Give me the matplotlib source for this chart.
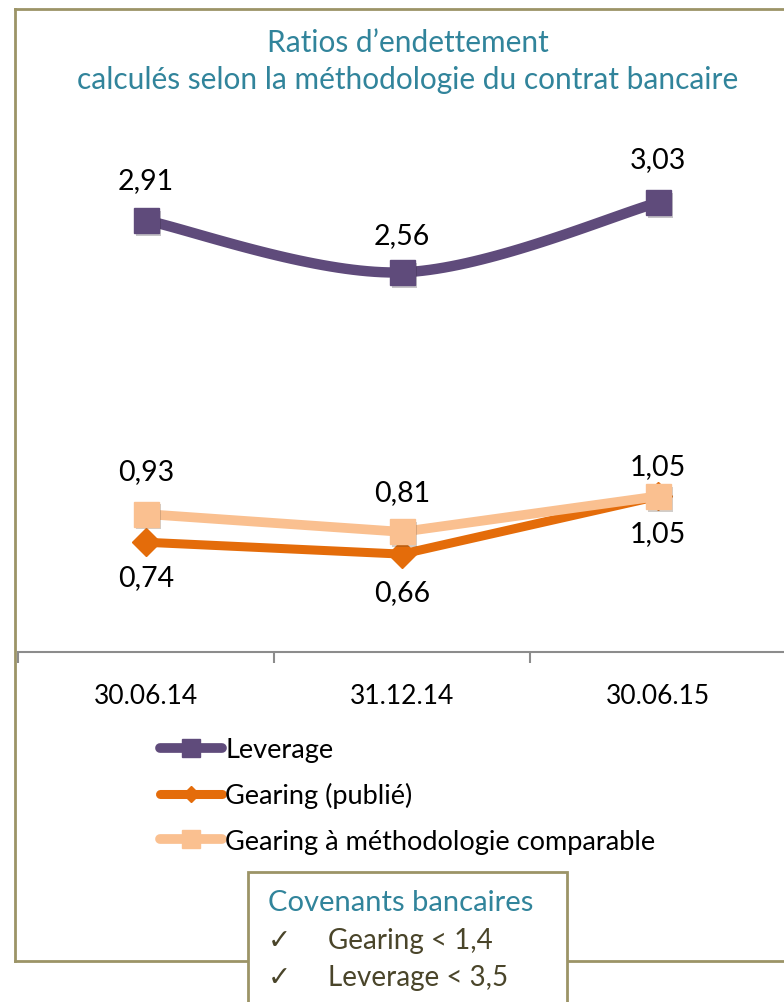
import numpy as np
import matplotlib.pyplot as plt
from matplotlib.lines import Line2D
from matplotlib.patches import Rectangle
import matplotlib.patheffects as pe

plt.rcParams['font.family'] = ['Lato', 'DejaVu Sans']

periodes = ['30.06.14', '31.12.14', '30.06.15']
leverage = [2.91, 2.56, 3.03]
gearing_publie = [0.74, 0.66, 1.05]
gearing_comparable = [0.93, 0.81, 1.05]
covenants = ['Gearing < 1,4', 'Leverage < 3,5']

violet = '#5F4B7B'
orange = '#E46C0A'
peche = '#FAC090'
teal = '#31849B'
olive = '#9C9467'

W, H = 784, 1003


def fx(px):
    return px / W


def fy(py):
    return 1 - py / H


def catmull_rom(x, y, n=40):
    # courbe lissée façon Excel à travers les points
    px = np.concatenate([[x[0]], x, [x[-1]]])
    py = np.concatenate([[y[0]], y, [y[-1]]])
    xs, ys = [], []
    t = np.linspace(0, 1, n)
    for i in range(1, len(px) - 2):
        for p, out in ((px, xs), (py, ys)):
            p0, p1, p2, p3 = p[i - 1], p[i], p[i + 1], p[i + 2]
            out.extend(0.5 * ((2 * p1) + (-p0 + p2) * t
                              + (2 * p0 - 5 * p1 + 4 * p2 - p3) * t ** 2
                              + (-p0 + 3 * p1 - 3 * p2 + p3) * t ** 3))
    return np.array(xs), np.array(ys)


fig = plt.figure(figsize=(W / 100, H / 100), dpi=100)
ax = fig.add_axes([fx(18), fy(653), fx(786 - 18), (653 - 128) / H])

x = np.arange(len(periodes))
ombre = [pe.SimplePatchShadow(offset=(2, -2), alpha=0.25), pe.Normal()]

# Leverage : courbe lissée
sx, sy = catmull_rom(x.astype(float), np.array(leverage))
ax.plot(sx, sy, color=violet, lw=7.5, solid_capstyle='round', zorder=3)
ax.plot(x, leverage, ls='none', marker='s', ms=18, color=violet, zorder=4,
        path_effects=ombre)

ax.plot(x, gearing_publie, color=orange, lw=6.5, marker='D', ms=14,
        zorder=3, solid_capstyle='round')
ax.plot(x, gearing_comparable, color=peche, lw=7, zorder=4, solid_capstyle='round')
ax.plot(x, gearing_comparable, ls='none', marker='s', ms=18, color=peche, zorder=5,
        path_effects=ombre)

# décalages des étiquettes (pixels)
dec_leverage = [40, 37, 44]
dec_comparable = [43, 40, 30]
dec_publie = [-35, -38, -37]

lab = dict(ha='center', va='center', fontsize=20.5, color='black',
           textcoords='offset points')
for i in range(len(x)):
    ax.annotate(f'{leverage[i]:.2f}'.replace('.', ','), (x[i], leverage[i]),
                xytext=(0, dec_leverage[i] * 0.72), **lab)
    ax.annotate(f'{gearing_comparable[i]:.2f}'.replace('.', ','),
                (x[i], gearing_comparable[i]),
                xytext=(0, dec_comparable[i] * 0.72), **lab)
    ax.annotate(f'{gearing_publie[i]:.2f}'.replace('.', ','),
                (x[i], gearing_publie[i]),
                xytext=(0, dec_publie[i] * 0.72), **lab)

ax.set_xlim(-0.5, 2.5)
ax.set_ylim(0, 3.54)
ax.set_yticks([])
ax.set_xticks(x)
ax.set_xticklabels(periodes, fontsize=19)
ax.set_xticks([-0.5, 0.5, 1.5], minor=True)
ax.tick_params(axis='x', which='major', length=0, pad=22)
ax.tick_params(axis='x', which='minor', length=8, color='#8C8C8C', width=1.5)
for s in ('left', 'right', 'top'):
    ax.spines[s].set_visible(False)
ax.spines['bottom'].set_color('#8C8C8C')
ax.spines['bottom'].set_linewidth(1.5)
ax.patch.set_alpha(0)

# titre
fig.text(fx(408), fy(43), 'Ratios d\u2019endettement', ha='center', va='center',
         fontsize=21.5, color=teal)
fig.text(fx(408), fy(80), 'calculés selon la méthodologie du contrat bancaire',
         ha='center', va='center', fontsize=21.5, color=teal)

# légende
handles = [
    Line2D([], [], color=violet, lw=7, marker='s', ms=13, solid_capstyle='round'),
    Line2D([], [], color=orange, lw=6.5, marker='D', ms=8, solid_capstyle='round'),
    Line2D([], [], color=peche, lw=7, marker='s', ms=13, solid_capstyle='round'),
]
fig.legend(handles, ['Leverage', 'Gearing (publié)', 'Gearing à méthodologie comparable'],
           loc='upper left', bbox_to_anchor=(fx(160), fy(738)), frameon=False,
           fontsize=19.5, handlelength=2.3, handletextpad=0.1, labelspacing=0.75,
           borderpad=0, borderaxespad=0)

# cadre extérieur
for xs_, ys_ in (([15, 15], [10, 962]), ([15, 790], [10, 10]), ([15, 790], [962, 962])):
    fig.add_artist(Line2D([fx(v) for v in xs_], [fy(v) for v in ys_],
                          color=olive, lw=2, zorder=1))

# encadré des covenants
fig.add_artist(Rectangle((fx(248), fy(1010)), fx(567 - 248), (1010 - 873) / H,
                         facecolor='white', edgecolor=olive, lw=2, zorder=2))
fig.text(fx(268), fy(903), 'Covenants bancaires', ha='left', va='center',
         fontsize=21, color=teal, zorder=3)
for k, c in enumerate(covenants):
    yy = fy(941 + 37 * k)
    fig.text(fx(268), yy, '\u2713', ha='left', va='center', fontsize=20,
             color='#4A452A', family=['DejaVu Sans'], zorder=3)
    fig.text(fx(328), yy, c, ha='left', va='center', fontsize=20,
             color='#4A452A', zorder=3)

fig.savefig('out.png', dpi=100)
